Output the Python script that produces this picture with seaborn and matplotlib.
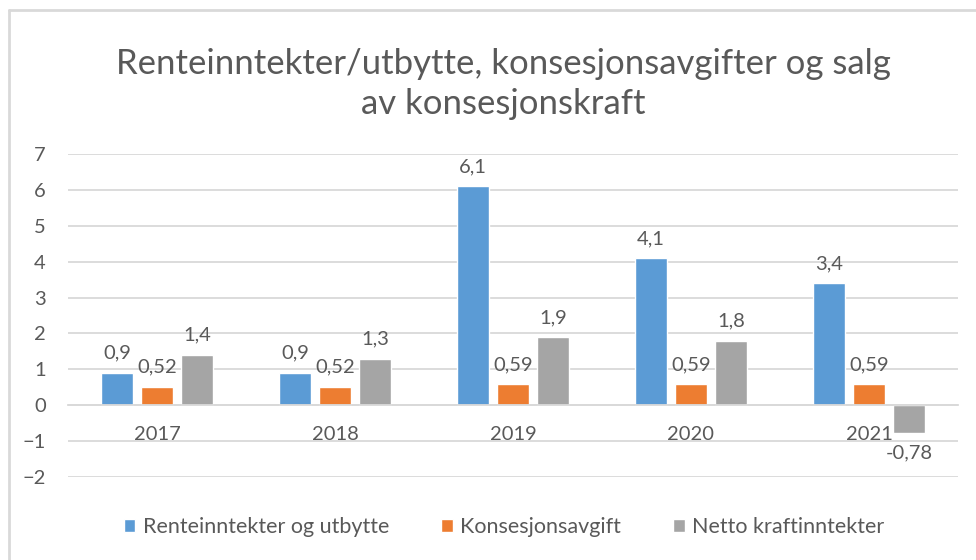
import matplotlib
matplotlib.use("Agg")
import matplotlib.pyplot as plt
import seaborn as sns
import pandas as pd
from matplotlib.lines import Line2D

# Data
years = ['2017', '2018', '2019', '2020', '2021']
series = ['Renteinntekter og utbytte', 'Konsesjonsavgift', 'Netto kraftinntekter']
rente = [0.9, 0.9, 6.1, 4.1, 3.4]
konsesjon = [0.52, 0.52, 0.59, 0.59, 0.59]
netto = [1.4, 1.3, 1.9, 1.8, -0.78]
colors = ['#5B9BD5', '#ED7D31', '#A5A5A5']

df = pd.DataFrame({
    'year': years * 3,
    'serie': [series[0]] * 5 + [series[1]] * 5 + [series[2]] * 5,
    'value': rente + konsesjon + netto,
})

sns.set_style('white')
plt.rcParams['font.family'] = ['Lato', 'DejaVu Sans']
text_col = '#595959'
grid_col = '#D9D9D9'

fig = plt.figure(figsize=(9.76, 5.6), dpi=100)
ax = fig.add_axes([68 / 976, 1 - 477 / 560, (958 - 68) / 976, (477 - 154) / 560])

sns.barplot(data=df, x='year', y='value', hue='serie', palette=colors,
            width=0.675, gap=0.22, ax=ax, saturation=1, legend=True)

ax.set_ylim(-2, 7)
ax.set_yticks(range(-2, 8))
ax.set_xlim(-0.5, 4.5)
ax.yaxis.grid(True, color=grid_col, linewidth=1.3)
ax.set_axisbelow(True)
for s in ['top', 'right', 'left']:
    ax.spines[s].set_visible(False)
ax.spines['bottom'].set_position(('data', 0))
ax.spines['bottom'].set_color(grid_col)
ax.spines['bottom'].set_linewidth(1.3)
ax.tick_params(axis='x', length=0, pad=15, labelsize=14.5, labelcolor=text_col)
ax.tick_params(axis='y', length=0, pad=16, labelsize=14.5, labelcolor=text_col)
ax.set_xlabel('')
ax.set_ylabel('')

fmt = lambda v: f"{v:g}".replace('.', ',')
for cont in ax.containers:
    ax.bar_label(cont, labels=[fmt(v) for v in cont.datavalues], padding=8,
                 fontsize=14.5, color=text_col)

handles, labels = ax.get_legend_handles_labels()
ax.get_legend().remove()
fig.legend(handles, labels, loc='center', bbox_to_anchor=(504 / 976, 1 - 527 / 560),
           ncol=3, frameon=False, fontsize=15.5, labelcolor=text_col,
           handlelength=0.55, handleheight=0.55, handletextpad=0.35, columnspacing=2.4)

fig.text(503 / 976, 1 - 84 / 560,
         'Renteinntekter/utbytte, konsesjonsavgifter og salg\nav konsesjonskraft',
         ha='center', va='center', fontsize=25, color=text_col, linespacing=1.3)

# chart border like the Excel chart area
fig.add_artist(Line2D([9 / 976, 1], [1 - 10 / 560] * 2, color=grid_col, lw=2,
                      transform=fig.transFigure))
fig.add_artist(Line2D([9 / 976] * 2, [0, 1 - 10 / 560], color=grid_col, lw=2,
                      transform=fig.transFigure))

fig.savefig('out.png', dpi=100)
